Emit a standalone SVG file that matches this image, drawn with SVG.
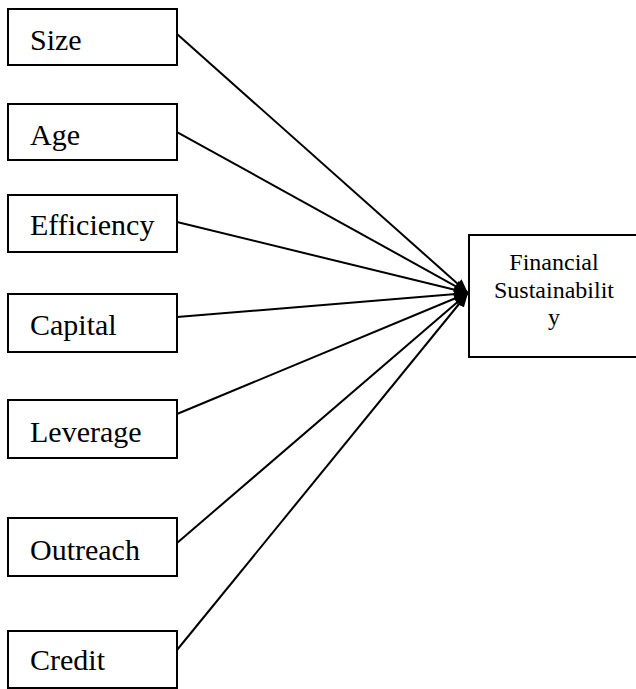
<svg xmlns="http://www.w3.org/2000/svg" width="636" height="689" viewBox="0 0 636 689">
<style>
.box{fill:#fff;stroke:#000;stroke-width:2}
.lbl{font-family:"Liberation Serif","Times New Roman",serif;font-size:30px;fill:#000}
.tlbl{font-family:"Liberation Serif","Times New Roman",serif;font-size:24px;fill:#000;text-anchor:middle}
.conn{stroke:#000;stroke-width:2;fill:none;marker-end:url(#ah)}
</style>
<defs>
<marker id="ah" markerUnits="userSpaceOnUse" markerWidth="14" markerHeight="12" refX="14" refY="6" orient="auto">
<path d="M0,0 L14,6 L0,12 Z" fill="#000"/>
</marker>
</defs>
<rect width="636" height="689" fill="#fff"/>
<g id="connectors">
<line class="conn" x1="177" y1="34" x2="468" y2="293"/>
<line class="conn" x1="177" y1="132" x2="468" y2="293"/>
<line class="conn" x1="177" y1="222" x2="468" y2="293"/>
<line class="conn" x1="177" y1="317" x2="468" y2="293"/>
<line class="conn" x1="177" y1="414" x2="468" y2="293"/>
<line class="conn" x1="177" y1="543" x2="468" y2="293"/>
<line class="conn" x1="177" y1="650" x2="468" y2="293"/>
</g>
<g id="size"><rect class="box" x="8" y="9" width="169" height="56"/><text class="lbl" x="30" y="50">Size</text></g>
<g id="age"><rect class="box" x="8" y="104" width="169" height="56"/><text class="lbl" x="30" y="145">Age</text></g>
<g id="efficiency"><rect class="box" x="8" y="195" width="169" height="57"/><text class="lbl" x="30" y="235">Efficiency</text></g>
<g id="capital"><rect class="box" x="8" y="294" width="169" height="58"/><text class="lbl" x="30" y="335">Capital</text></g>
<g id="leverage"><rect class="box" x="8" y="400" width="169" height="58"/><text class="lbl" x="30" y="442">Leverage</text></g>
<g id="outreach"><rect class="box" x="8" y="518" width="169" height="58"/><text class="lbl" x="30" y="560">Outreach</text></g>
<g id="credit"><rect class="box" x="8" y="631" width="169" height="57"/><text class="lbl" x="30" y="670">Credit</text></g>
<g id="financial-sustainability"><rect class="box" x="469" y="235" width="180" height="122"/>
<text class="tlbl" x="554" y="270">Financial</text>
<text class="tlbl" x="554" y="298">Sustainabilit</text>
<text class="tlbl" x="554" y="325">y</text></g>
</svg>
